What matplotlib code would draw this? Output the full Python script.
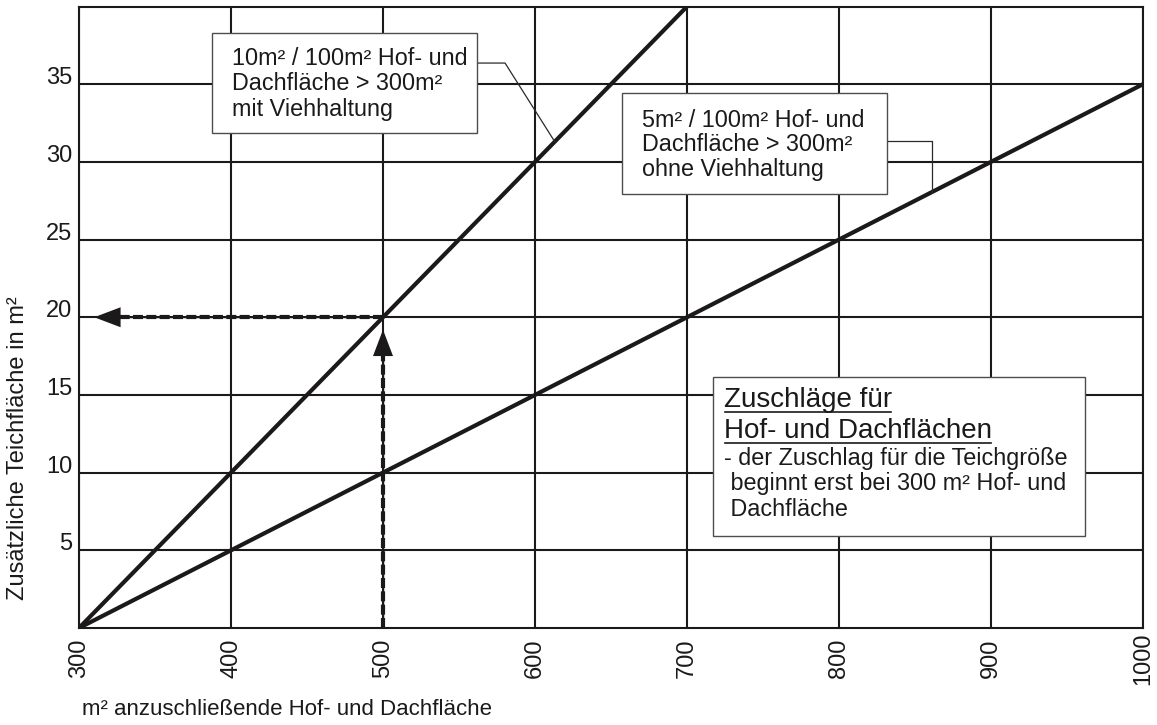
import matplotlib
matplotlib.use('Agg')
import matplotlib.pyplot as plt
from matplotlib.patches import Rectangle

plt.rcParams['font.family'] = ['Liberation Sans', 'DejaVu Sans']

# Hof- und Dachfläche in m²
flaeche = [300, 400, 500, 600, 700, 800, 900, 1000]
# 10 m² je 100 m² mit Viehhaltung
mit_vieh = [0, 10, 20, 30, 40, 50, 60, 70]
# 5 m² je 100 m² ohne Viehhaltung
ohne_vieh = [0, 5, 10, 15, 20, 25, 30, 35]

x_ticks = [300, 400, 500, 600, 700, 800, 900, 1000]
y_ticks = [5, 10, 15, 20, 25, 30, 35]

# Ablesebeispiel: 500 m² -> 20 m²
bsp_x, bsp_y = 500, 20

farbe = '#1b1919'
W, H = 1157, 725

fig = plt.figure(figsize=(W / 100, H / 100), dpi=100)
ax = fig.add_axes([79 / W, 1 - 628 / H, 1064 / W, 621.5 / H])
ax.set_xlim(300, 1000)
ax.set_ylim(0, 40)

ax.set_xticks(x_ticks)
ax.set_yticks(y_ticks)
ax.grid(True, color=farbe, lw=1.5)
ax.set_axisbelow(True)
for s in ax.spines.values():
    s.set_color(farbe)
    s.set_linewidth(1.5)
ax.tick_params(length=0, labelsize=17, labelcolor=farbe)
ax.tick_params(axis='x', pad=22, labelrotation=90)
ax.tick_params(axis='y', pad=5)
plt.setp(ax.get_xticklabels(), va='center')
plt.setp(ax.get_yticklabels(), va='baseline')

# Kennlinien
ax.plot(flaeche, mit_vieh, color=farbe, lw=3, solid_capstyle='butt', zorder=3)
ax.plot(flaeche, ohne_vieh, color=farbe, lw=3, solid_capstyle='butt', zorder=3)

# gestrichelte Ablesepfeile
tip_y = bsp_y - 0.8
tip_x = x_ticks[0] + 10
for xs, ys in [([bsp_x, bsp_x], [0, tip_y - 0.5]), ([bsp_x, tip_x + 5], [bsp_y, bsp_y])]:
    ax.plot(xs, ys, color=farbe, lw=1, solid_capstyle='butt', zorder=3.2)
    ax.plot(xs, ys, color=farbe, lw=3, dashes=(2.4, 0.8), zorder=3.3)

kopf = dict(arrowstyle='-|>,head_length=1.9,head_width=0.72', color=farbe,
            lw=0, shrinkA=0, shrinkB=0, mutation_scale=10)
ax.annotate('', xy=(bsp_x, tip_y), xytext=(0, -25), textcoords='offset points',
            arrowprops=kopf, zorder=3.4)
ax.annotate('', xy=(tip_x, bsp_y), xytext=(25, 0), textcoords='offset points',
            arrowprops=kopf, zorder=3.4)

# Beschriftungskästen
def kasten(x0, x1, y0, y1):
    ax.add_patch(Rectangle((x0, y0), x1 - x0, y1 - y0, fc='white',
                           ec='#4d4d4d', lw=1, zorder=4))

leader = dict(color='#2a2a2a', lw=0.9, zorder=3.6)

kasten(387.5, 561.8, 31.85, 38.29)
x_end = 613
ax.plot([561.8, 580.3, x_end], [36.36, 36.36, mit_vieh[0] + (x_end - 300) / 10], **leader)
for i, z in enumerate(['10m² / 100m² Hof- und', 'Dachfläche > 300m²', 'mit Viehhaltung']):
    ax.text(400.7, 36.23 - i * 1.63, z, fontsize=16.8, color=farbe, va='baseline', zorder=5)

kasten(657.2, 831.6, 27.93, 34.43)
x_end = 861.2
ax.plot([831.6, x_end, x_end], [31.34, 31.34, (x_end - 300) / 20], **leader)
for i, z in enumerate(['5m² / 100m² Hof- und', 'Dachfläche > 300m²', 'ohne Viehhaltung']):
    ax.text(670.4, 32.26 - i * 1.59, z, fontsize=16.8, color=farbe, va='baseline', zorder=5)

kasten(717.1, 961.8, 5.92, 16.15)
titel = []
for i, z in enumerate(['Zuschläge für', 'Hof- und Dachflächen']):
    titel.append(ax.text(724.3, 14.22 - i * 1.99, z, fontsize=20, color=farbe,
                         va='baseline', zorder=5))
body = ['- der Zuschlag für die Teichgröße', ' beginnt erst bei 300 m² Hof- und', ' Dachfläche']
for i, z in enumerate(body):
    ax.text(724.3, 10.49 - i * 1.63, z, fontsize=16.8, color=farbe, va='baseline', zorder=5)

# Achsentitel
fig.text(18 / W, 1 - 448 / H, 'Zusätzliche Teichfläche in m²', rotation=90,
         ha='center', va='center', fontsize=17, color=farbe)
fig.text(82 / W, 1 - 715 / H, 'm² anzuschließende Hof- und Dachfläche',
         ha='left', va='baseline', fontsize=16, color=farbe)

# Unterstreichung der Überschrift
fig.canvas.draw()
inv = ax.transData.inverted()
for t in titel:
    bb = t.get_window_extent()
    base = ax.transData.transform(t.get_position())[1]
    (ux0, uy), (ux1, _) = inv.transform([(bb.x0 + 1, base - 5), (bb.x1 - 1, base - 5)])
    ax.plot([ux0, ux1], [uy, uy], color=farbe, lw=1.2, zorder=5)

fig.savefig('out.png', dpi=100)
